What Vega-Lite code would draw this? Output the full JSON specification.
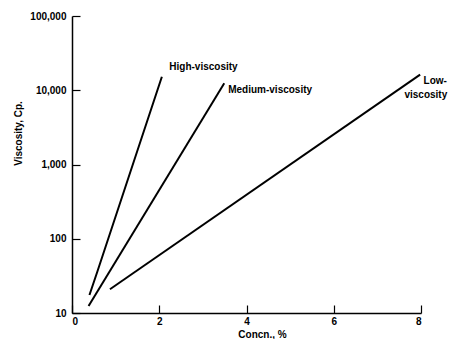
{
  "$schema": "https://vega.github.io/schema/vega-lite/v6.json",
  "width": 349,
  "height": 297,
  "autosize": "none",
  "padding": {"left": 72, "top": 16, "right": 28, "bottom": 26},
  "background": "white",
  "config": {
    "view": {"stroke": null},
    "font": "Liberation Sans",
    "axis": {
      "grid": false,
      "domainColor": "black",
      "domainWidth": 1.5,
      "tickColor": "black",
      "tickWidth": 1.2,
      "labelFont": "Liberation Sans",
      "labelFontWeight": "bold",
      "labelFontSize": 10,
      "labelColor": "black",
      "titleFont": "Liberation Sans",
      "titleFontWeight": "bold",
      "titleFontSize": 10,
      "titleColor": "black"
    }
  },
  "layer": [
    {
      "data": {
        "values": [
          {"series": "High", "x": 0.40, "y": 17.5},
          {"series": "High", "x": 0.58, "y": 36},
          {"series": "High", "x": 2.06, "y": 15200},
          {"series": "Medium", "x": 0.38, "y": 12.4},
          {"series": "Medium", "x": 3.49, "y": 12400},
          {"series": "Low", "x": 0.87, "y": 20.9},
          {"series": "Low", "x": 7.98, "y": 16200}
        ]
      },
      "mark": {"type": "line", "color": "black", "strokeWidth": 2, "clip": false},
      "encoding": {
        "x": {
          "field": "x", "type": "quantitative",
          "scale": {"domain": [0, 8], "nice": false, "zero": false},
          "axis": {"values": [0, 2, 4, 6, 8], "title": "Concn., %", "tickSize": -8, "labelPadding": 11, "titleX": 190, "titleY": 24, "titleBaseline": "alphabetic"}
        },
        "y": {
          "field": "y", "type": "quantitative",
          "scale": {"type": "log", "domain": [10, 100000], "nice": false},
          "axis": {"values": [10, 100, 1000, 10000, 100000], "format": ",", "title": "Viscosity, Cp.", "tickSize": -8, "labelPadding": 14, "titleX": -54, "titleY": 117, "titleAlign": "center", "titleBaseline": "middle", "titleAngle": -90}
        },
        "detail": {"field": "series"}
      }
    },
    {
      "data": {
        "values": [
          {"label": "High-viscosity", "x": 2.23, "y": 20600},
          {"label": "Medium-viscosity", "x": 3.58, "y": 10000},
          {"label": "Low-", "x": 8.06, "y": 13300},
          {"label": "viscosity", "x": 7.62, "y": 8630}
        ]
      },
      "mark": {"type": "text", "align": "left", "baseline": "middle", "font": "Liberation Sans", "fontWeight": "bold", "fontSize": 10, "color": "black", "clip": false},
      "encoding": {
        "x": {"field": "x", "type": "quantitative"},
        "y": {"field": "y", "type": "quantitative"},
        "text": {"field": "label"}
      }
    }
  ]
}
